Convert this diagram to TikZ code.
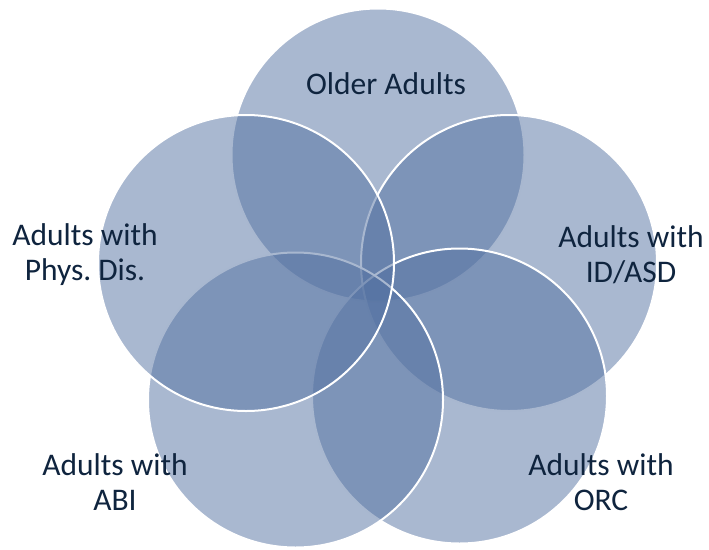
\documentclass[tikz,border=0pt]{standalone}
\usepackage{fontspec}
\setmainfont{Carlito}
\definecolor{vfill}{RGB}{83,113,161}
\definecolor{vtext}{RGB}{15,36,62}
\frenchspacing
\begin{document}
\begin{tikzpicture}[x=1pt,y=-1pt,
  venn/.style={fill=vfill,fill opacity=0.5,draw=white,line width=2pt},
  lbl/.style={text=vtext,font=\fontsize{31.5}{35}\selectfont,align=center,inner sep=0pt}]
\useasboundingbox (0,0) rectangle (709,549);
\path[venn] (378,155) circle (146.5);
\path[venn] (509,263) circle (148);
\path[venn] (459.5,396) circle (147.5);
\path[venn] (295.5,400) circle (147.5);
\path[venn] (246,263) circle (148);
\node[lbl] (oa) at (386,84) {Older Adults};
\node[lbl] (id) at (631,255) {Adults with\\ID/ASD};
\node[lbl] (pd) at (85,255) {Adults with\\Phys.\ Dis.};
\node[lbl] (abi) at (115,482) {Adults with\\ABI};
\node[lbl] (orc) at (601,482) {Adults with\\ORC};
\end{tikzpicture}
\end{document}
